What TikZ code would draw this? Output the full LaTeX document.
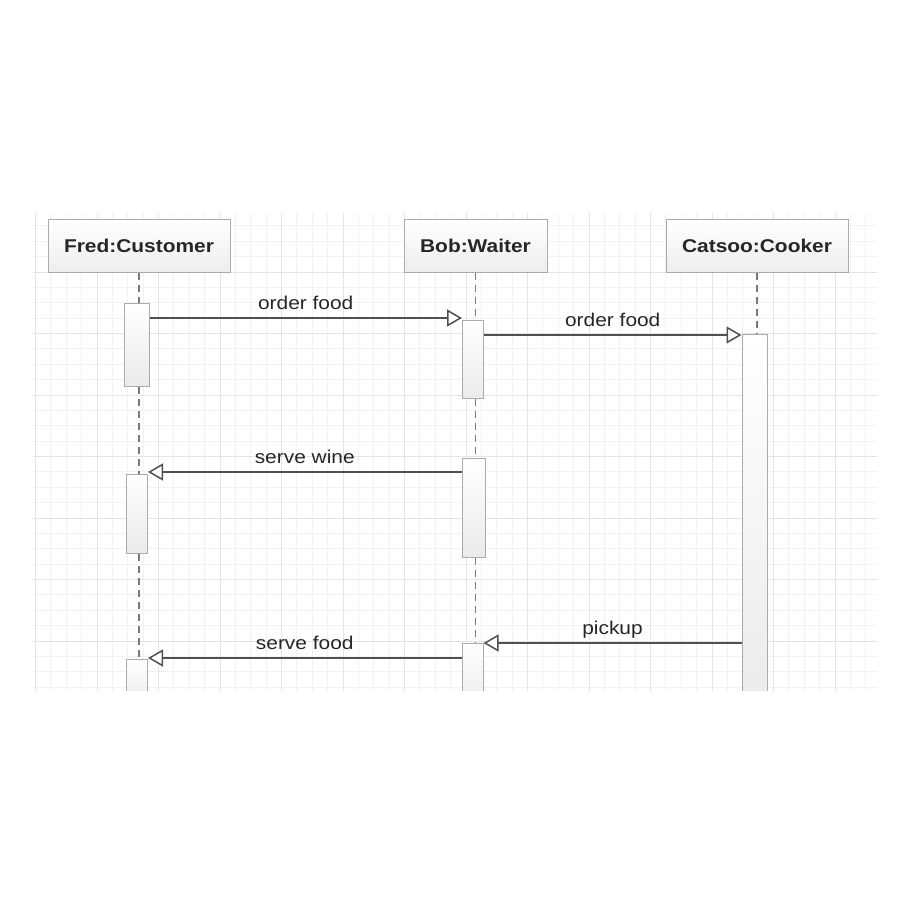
\documentclass[tikz,border=0pt]{standalone}
\usepackage{fontspec}
\setmainfont[FakeStretch=1.13]{Liberation Sans}
\usetikzlibrary{arrows.meta}
\definecolor{gridminor}{HTML}{F2F2F2}
\definecolor{gridmajor}{HTML}{E4E4E4}
\definecolor{boxborder}{HTML}{ABABAB}
\definecolor{msgline}{HTML}{505050}
\definecolor{lifecol}{HTML}{7A7A7A}
\definecolor{txt}{HTML}{262626}
\tikzset{
  head/.style={draw=boxborder, line width=1pt, top color=white, bottom color=gray!14,
    minimum width=#1, minimum height=53, inner sep=0pt,
    font=\fontsize{18.5}{22}\selectfont\bfseries, text=txt},
  actbox/.style n args={2}{draw=boxborder, line width=1pt, top color=white, bottom color=gray!16,
    minimum width=#1, minimum height=#2, inner sep=0pt},
  lifeline/.style={draw=lifecol, line width=1.3pt, dash pattern=on 7pt off 5pt},
  msg/.style={draw=msgline, line width=1.4pt, -{Triangle[open, fill=white, length=15pt, width=17pt, line width=1.5pt]}},
  lbl/.style={anchor=base, yshift=8.5pt, inner sep=0pt, text=txt, font=\fontsize{18.5}{22}\selectfont},
}
\begin{document}
\begin{tikzpicture}[x=1pt, y=-1pt]
\fill[white] (0,0) rectangle (900,900);
\useasboundingbox (0,0) rectangle (900,900);
\begin{scope}
\clip (33,213) rectangle (877,690);
% grid
\foreach \k in {0,...,54}{
  \pgfmathsetmacro\xx{35.5+15.375*\k}
  \draw[gridminor, line width=1pt] (\xx,200) -- (\xx,700);
}
\foreach \k in {1,...,31}{
  \pgfmathsetmacro\yy{210.5+15.375*\k}
  \draw[gridminor, line width=1pt] (20,\yy) -- (890,\yy);
}
\foreach \k in {0,...,13}{
  \pgfmathsetmacro\xx{35.5+61.5*\k}
  \draw[gridmajor, line width=1pt] (\xx,200) -- (\xx,700);
}
\foreach \k in {1,...,7}{
  \pgfmathsetmacro\yy{210.5+61.5*\k}
  \draw[gridmajor, line width=1pt] (20,\yy) -- (890,\yy);
}
% headers
\node[head=182] (hf) at (139,245.5) {Fred:Customer};
\node[head=143] (hb) at (475.5,245.5) {Bob:Waiter};
\node[head=182] (hc) at (757,245.5) {Catsoo:Cooker};
% activation boxes (positions only)
\path node[actbox={25}{83}] (f1) at (136.5,344.5) {}
      node[actbox={21}{78}] (b1) at (473,359) {}
      node[actbox={25}{372}] (c1) at (754.5,520) {}
      node[actbox={21}{79}] (f2) at (137,513.5) {}
      node[actbox={23}{99}] (b2) at (473.5,507.5) {}
      node[actbox={21}{46}] (f3) at (137,682) {}
      node[actbox={21}{66}] (b3) at (472.5,676) {};
% lifelines
\draw[lifeline] (hf.south) -- (hf.south |- f1.north);
\draw[lifeline] (hf.south |- f1.south) -- (hf.south |- f2.north);
\draw[lifeline] (hf.south |- f2.south) -- (hf.south |- f3.north);
\draw[lifeline] (hb.south) -- (hb.south |- b1.north);
\draw[lifeline] (hb.south |- b1.south) -- (hb.south |- b2.north);
\draw[lifeline] (hb.south |- b2.south) -- (hb.south |- b3.north);
\draw[lifeline] (hc.south) -- (hc.south |- c1.north);
% redraw boxes on top of lifelines
\foreach \n/\w/\h in {f1/25/83, b1/21/78, c1/25/372, f2/21/79, b2/23/99, f3/21/46, b3/21/66}{
  \path (\n.center) node[actbox={\w}{\h}] {};
}
% messages
\coordinate (y1) at (0,318);
\coordinate (y2) at (0,335);
\coordinate (y3) at (0,472);
\coordinate (y4) at (0,643);
\coordinate (y5) at (0,658);
\draw[msg] (f1.east |- y1) -- (b1.west |- y1) node[lbl, midway] (l1) {order food};
\draw[msg] (b1.east |- y2) -- (c1.west |- y2) node[lbl, midway] (l2) {order food};
\draw[msg] (b2.west |- y3) -- (f2.east |- y3) node[lbl, midway] (l3) {serve wine};
\draw[msg] (c1.west |- y4) -- (b3.east |- y4) node[lbl, midway] (l4) {pickup};
\draw[msg] (b3.west |- y5) -- (f3.east |- y5) node[lbl, midway] (l5) {serve food};
\end{scope}
\end{tikzpicture}
\end{document}
